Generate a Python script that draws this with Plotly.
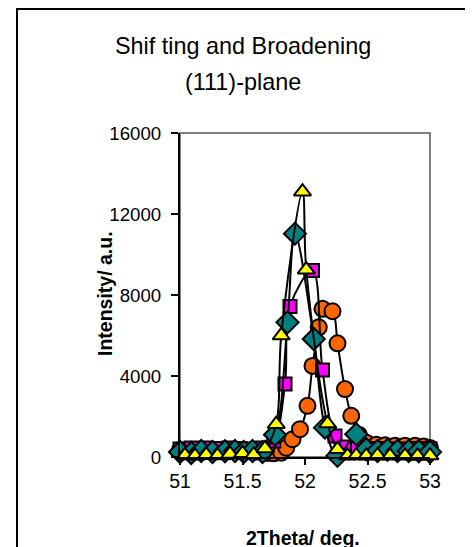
import plotly.graph_objects as go

# ---------------- data ----------------
circle_x = [51.00, 51.05, 51.10, 51.15, 51.20, 51.25, 51.30, 51.35, 51.40, 51.45,
            51.50, 51.55, 51.60, 51.65, 51.70, 51.75, 51.81, 51.85, 51.90, 51.96,
            52.02, 52.06, 52.11, 52.14, 52.22, 52.26, 52.32, 52.37, 52.43, 52.49,
            52.57, 52.64, 52.72, 52.80, 52.88, 52.95, 53.00]
circle_y = [350, 300, 320, 300, 280, 300, 320, 300, 290, 300,
            280, 300, 260, 250, 200, 180, 213, 460, 877, 1372,
            2527, 4500, 6405, 7317, 7198, 5613, 3354, 2031, 1100, 708,
            600, 580, 560, 560, 550, 520, 450]

square_x = [51.00, 51.09, 51.21, 51.30, 51.39, 51.48, 51.57, 51.66, 51.75, 51.84,
            51.88, 52.06, 52.14, 52.24, 52.33, 52.42, 52.51, 52.60, 52.70, 52.80,
            52.90, 53.00]
square_y = [400, 450, 450, 420, 450, 420, 400, 450, 790, 3600,
            7430, 9215, 4295, 1040, 500, 450, 420, 420, 400, 400,
            420, 400]

diamond_x = [51.00, 51.09, 51.17, 51.26, 51.36, 51.44, 51.51, 51.58, 51.66, 51.76,
             51.86, 51.92, 52.07, 52.16, 52.26, 52.41, 52.49, 52.58, 52.66, 52.74,
             52.83, 52.91, 53.00]
diamond_y = [250, 200, 300, 250, 280, 300, 250, 300, 250, 1100,
             6650, 11030, 5830, 1450, 60, 1120, 380, 300, 350, 300,
             300, 280, 250]

triangle_x = [51.04, 51.12, 51.21, 51.30, 51.40, 51.50, 51.59, 51.68, 51.77, 51.81,
              51.98, 52.01, 52.18, 52.26, 52.34, 52.41, 52.49, 52.58, 52.68, 52.80,
              52.90, 53.00]
triangle_y = [80, 60, 100, 70, 150, 180, 120, 420, 1620, 6000,
              13100, 9250, 1650, 380, 60, 70, 60, 80, 60, 60,
              50, 70]

x_ticks = [51, 51.5, 52, 52.5, 53]
x_tick_text = ["51", "51.5", "52", "52.5", "53"]
y_ticks = [0, 4000, 8000, 12000, 16000]
y_tick_text = ["0", "4000", "8000", "12000", "16000"]

title_1 = "Shif ting and Broadening"
title_2 = "(111)-plane"
x_title = "2Theta/ deg."
y_title = "Intensity/ a.u."

# ---------------- layout geometry (screen pixels; page has 8px body margin) ----------------
OFF = 8
W, H = 473 - OFF, 547 - OFF
L, R, T, B = 180 - OFF, 430 - OFF, 133 - OFF, 457 - OFF
PW, PH = R - L, B - T


def px(xs):
    return (xs - OFF - L) / PW


def py(ys):
    return (B - (ys - OFF)) / PH


FONT = "Liberation Sans, Arial, sans-serif"
XTICK_SIZE = 19.5
YTICK_SIZE = 18.7

fig = go.Figure()

series = [
    (circle_x, circle_y, "circle", "#FF6600", 16),
    (square_x, square_y, "square", "#FF00FF", 13),
    (diamond_x, diamond_y, "diamond", "#008080", 17),
    (triangle_x, triangle_y, "triangle-up", "#FFFF00", 15),
]
for xs, ys, sym, col, size in series:
    fig.add_trace(go.Scatter(
        x=xs, y=ys, mode="lines+markers",
        line=dict(color="black", width=2, shape="spline", smoothing=1.0),
        marker=dict(symbol=sym, color=col, size=size,
                    line=dict(color="black", width=2)),
        showlegend=False, cliponaxis=False,
    ))

fig.update_layout(
    width=W, height=H,
    margin=dict(l=L, r=W - R, t=T, b=H - B, pad=0),
    paper_bgcolor="white", plot_bgcolor="white",
    font=dict(family=FONT, color="black", size=XTICK_SIZE),
    xaxis=dict(range=[51, 53], tickvals=x_ticks, ticktext=x_tick_text,
               showgrid=False, zeroline=False, showline=True,
               linecolor="black", linewidth=2, ticks="outside",
               ticklen=6, tickwidth=2, tickcolor="black",
               tickfont=dict(size=XTICK_SIZE, family=FONT)),
    yaxis=dict(range=[0, 16000], tickvals=y_ticks, ticktext=y_tick_text,
               showgrid=False, zeroline=False, showline=True,
               linecolor="black", linewidth=2, ticks="outside",
               ticklen=7, tickwidth=2, tickcolor="black",
               ticklabelstandoff=6,
               tickfont=dict(size=YTICK_SIZE, family=FONT)),
    shapes=[
        dict(type="rect", xref="paper", yref="paper", x0=0, x1=1, y0=0, y1=1,
             line=dict(color="#808080", width=2), layer="below"),
        dict(type="rect", xref="paper", yref="paper",
             x0=px(17), x1=px(520), y0=py(9), y1=py(600),
             line=dict(color="black", width=2), layer="below"),
    ],
    annotations=[
        dict(text=title_1, xref="paper", yref="paper", x=px(243), y=py(46),
             showarrow=False, xanchor="center", yanchor="middle",
             font=dict(size=23.4, family=FONT)),
        dict(text=title_2, xref="paper", yref="paper", x=px(243), y=py(82),
             showarrow=False, xanchor="center", yanchor="middle",
             font=dict(size=23.4, family=FONT)),
        dict(text="<b>" + y_title + "</b>", xref="paper", yref="paper",
             x=px(105), y=py(294), textangle=-90, showarrow=False,
             xanchor="center", yanchor="middle",
             font=dict(size=XTICK_SIZE, family=FONT)),
        dict(text="<b>" + x_title + "</b>", xref="paper", yref="paper",
             x=px(303), y=py(538), showarrow=False,
             xanchor="center", yanchor="middle",
             font=dict(size=XTICK_SIZE, family=FONT)),
    ],
)

fig.write_html("out.html")
